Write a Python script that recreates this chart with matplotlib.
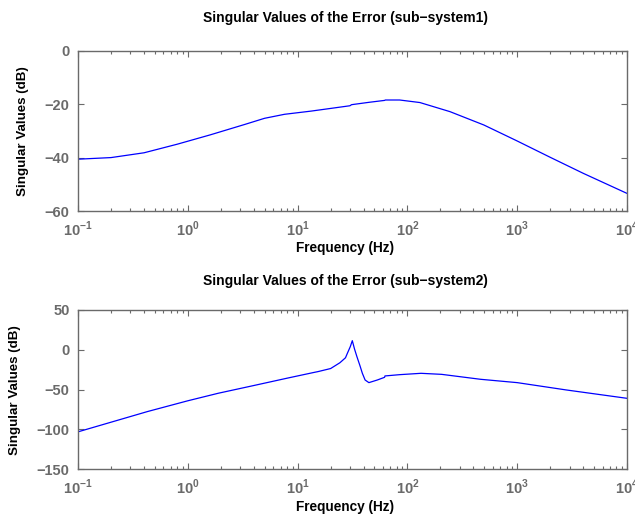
import matplotlib.pyplot as plt
from matplotlib.ticker import LogLocator, NullFormatter

plt.rcParams['font.family'] = ['Liberation Sans', 'DejaVu Sans']
plt.rcParams['mathtext.fontset'] = 'custom'
plt.rcParams['mathtext.rm'] = 'Liberation Sans:bold'
plt.rcParams['mathtext.bf'] = 'Liberation Sans:bold'

# sub-system1
f1 = [0.1, 0.2, 0.4, 0.8, 1.6, 3.3, 5.0, 7.6, 13.3, 20, 30, 31, 45, 62, 63, 85,
      130, 244, 497, 990, 2000, 4000, 10000]
sv1 = [-40.6, -40.0, -38.2, -35.0, -31.5, -27.6, -25.3, -23.8, -22.6, -21.6, -20.6, -20.2,
       -19.3, -18.6, -18.45, -18.45, -19.4, -22.8, -27.8, -33.7, -39.9, -45.9, -53.4]

# sub-system2
f2 = [0.1, 0.43, 1.0, 1.9, 4.0, 8.1, 14.2, 15.3, 20, 24.3, 27.3, 28.4, 30.2, 31.5, 33.0,
      34.7, 37.0, 38.9, 41.2, 44.6, 53.2, 62, 62.5, 85, 133, 205, 463, 1000, 2800, 10000]
sv2 = [-103.0, -77.5, -64.0, -54.5, -44.8, -35.5, -28.3, -27.4, -23.5, -16.2, -10.0, -4.4,
       4.0, 11.5, 1.0, -8.6, -20.0, -29.5, -37.9, -41.2, -37.9, -34.5, -32.8, -31.2, -29.5,
       -30.8, -37.0, -41.2, -50.4, -60.9]

titles = ['Singular Values of the Error (sub\u2212system1)',
          'Singular Values of the Error (sub\u2212system2)']
ylims = [(-60, 0), (-150, 50)]
yticks = [[-60, -40, -20, 0], [-150, -100, -50, 0, 50]]
xticks = [0.1, 1, 10, 100, 1000, 10000]
xticklabels = ['$10^{\u22121}$', '$10^{0}$', '$10^{1}$', '$10^{2}$', '$10^{3}$', '$10^{4}$']

gray = '#6a6a6a'
fig = plt.figure(figsize=(6.35, 5.19), dpi=100)
ax1 = fig.add_axes([0.1228, 0.5934, 0.8646, 0.3089])
ax2 = fig.add_axes([0.1228, 0.0958, 0.8646, 0.3069])

for i, (ax, f, sv) in enumerate(zip([ax1, ax2], [f1, f2], [sv1, sv2])):
    ax.semilogx(f, sv, color='#0000ff', linewidth=0.9)
    ax.set_xlim(0.1, 10000)
    ax.set_ylim(*ylims[i])
    ax.set_yticks(yticks[i])
    ax.set_yticklabels([str(v).replace('-', '\u2212') for v in yticks[i]])
    ax.set_xticks(xticks)
    ax.set_xticklabels(xticklabels)
    ax.xaxis.set_minor_locator(LogLocator(base=10, subs=range(2, 10), numticks=20))
    ax.xaxis.set_minor_formatter(NullFormatter())
    ax.tick_params(which='both', direction='in', top=True, right=True, colors=gray,
                   labelsize=10.5, width=0.8)
    ax.tick_params(which='major', length=4, pad=6)
    ax.tick_params(which='minor', length=2)
    for lab in ax.get_yticklabels():
        lab.set_fontweight('bold')
    for s in ax.spines.values():
        s.set_color(gray)
        s.set_linewidth(1.0)
    ax.set_title(titles[i], fontsize=10, fontweight='bold', pad=[20.5, 18][i], x=0.487)
    ax.set_xlabel('Frequency (Hz)', fontsize=9.8, fontweight='bold')
    ax.xaxis.set_label_coords(0.487, [-0.189, -0.194][i])
    ax.set_ylabel('Singular Values (dB)', fontsize=9.6, fontweight='bold')
    ax.yaxis.set_label_coords([-0.09, -0.104][i], 0.5)

plt.savefig('out.png', dpi=100)
